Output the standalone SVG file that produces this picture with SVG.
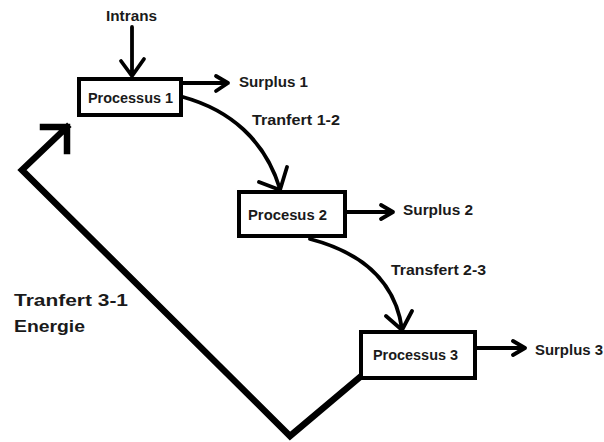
<svg xmlns="http://www.w3.org/2000/svg" width="604" height="442" viewBox="0 0 604 442">
<style>
.box{fill:#fff;stroke:#000;stroke-width:4}
.ln{fill:none;stroke:#000;stroke-width:3.8;stroke-linecap:round;stroke-linejoin:round}
.thick{fill:none;stroke:#000;stroke-width:6.5;stroke-linecap:square;stroke-linejoin:miter}
text{font-family:"Liberation Sans",Arial,sans-serif;font-weight:bold;fill:#1a1a1a}
.s{font-size:14.5px}
.b{font-size:17px}
</style>
<rect width="604" height="442" fill="#fff"/>
<g id="connectors">
  <path class="ln" d="M132,27 V76 M121,61 L132,76 L144,59"/>
  <path class="ln" d="M183,83 H228 M216,76 L228,83 L216,91"/>
  <path class="ln" d="M183,97 C230,110 265,140 280,189 M259,182 L280,190 L287,167"/>
  <path class="ln" d="M347,212 H393 M381,205 L393,212 L381,219"/>
  <path class="ln" d="M310,239 C360,252 395,280 402,329 M386,316 L402,330 L412,311"/>
  <path class="ln" d="M477,348 H525 M513,341 L525,348 L513,355"/>
  <path class="thick" d="M360,377 L290,436 L22,170 L67,127 M43,127 H67 V151"/>
</g>
<g id="intrans"><text class="s" x="106" y="21" textLength="51" lengthAdjust="spacingAndGlyphs">Intrans</text></g>
<g id="processus1">
  <rect class="box" x="79" y="79" width="102" height="36"/>
  <text class="s" x="88" y="103" textLength="85" lengthAdjust="spacingAndGlyphs">Processus 1</text>
</g>
<g id="surplus1"><text class="s" x="239" y="87" textLength="69" lengthAdjust="spacingAndGlyphs">Surplus 1</text></g>
<g id="t12"><text class="s" x="252" y="125" textLength="88" lengthAdjust="spacingAndGlyphs">Tranfert 1-2</text></g>
<g id="processus2">
  <rect class="box" x="239" y="192" width="106" height="44"/>
  <text class="s" x="248" y="220" textLength="79" lengthAdjust="spacingAndGlyphs">Procesus 2</text>
</g>
<g id="surplus2"><text class="s" x="403" y="215" textLength="70" lengthAdjust="spacingAndGlyphs">Surplus 2</text></g>
<g id="t23"><text class="s" x="391" y="275" textLength="95" lengthAdjust="spacingAndGlyphs">Transfert 2-3</text></g>
<g id="processus3">
  <rect class="box" x="361" y="332" width="114" height="46"/>
  <text class="s" x="373" y="360" textLength="85" lengthAdjust="spacingAndGlyphs">Processus 3</text>
</g>
<g id="surplus3"><text class="s" x="535" y="355" textLength="68" lengthAdjust="spacingAndGlyphs">Surplus 3</text></g>
<g id="t31">
  <text class="b" x="14" y="306" textLength="114" lengthAdjust="spacingAndGlyphs">Tranfert 3-1</text>
  <text class="b" x="14" y="332" textLength="71" lengthAdjust="spacingAndGlyphs">Energie</text>
</g>
</svg>
